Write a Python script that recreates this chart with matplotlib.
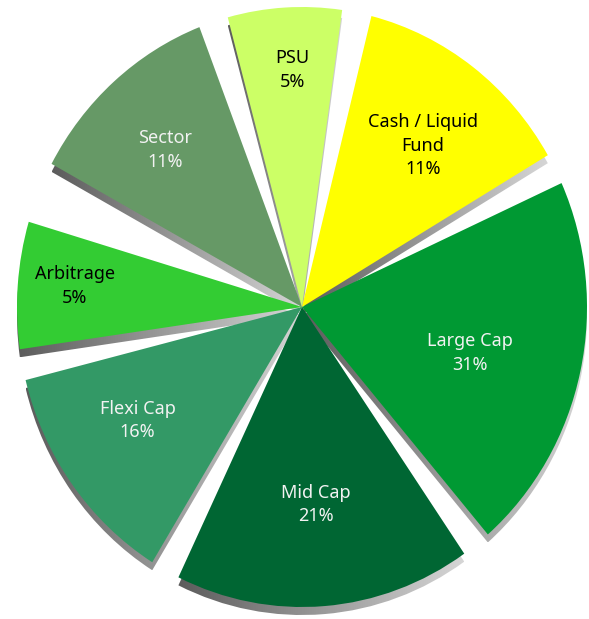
import numpy as np
import matplotlib.pyplot as plt
from matplotlib.patches import Wedge
from matplotlib.colors import LinearSegmentedColormap

# slices, clockwise, starting with Sector (upper left)
labels = ["Sector", "PSU", "Cash / Liquid\nFund", "Large Cap", "Mid Cap", "Flexi Cap", "Arbitrage"]
pct = [11, 5, 11, 31, 21, 16, 5]
# angular size of each slice as drawn in the picture (degrees)
slice_sizes = [40.4, 23.2, 45.5, 73.7, 60.4, 44.2, 24.6]

colors = ["#669966", "#CCFF66", "#FFFF00", "#009933", "#006633", "#339966", "#33CC33"]
text_colors = ["#F2F2F2", "black", "black", "#F2F2F2", "#F2F2F2", "#F2F2F2", "black"]
# label placement: distance from centre and small turn off the slice middle
label_r = [0.71, 0.79, 0.685, 0.61, 0.66, 0.69, 0.80]
label_turn = [-1.1, 1.0, 1.5, 2.2, 0.2, 2.9, 0.8]

gap = 6.0          # white wedge between slices
start = 298.5      # first slice starts here (deg clockwise from top)
drop = 8 / 300     # shadow offset downwards

fig = plt.figure(figsize=(5.89, 6.19), dpi=100)
ax = fig.add_axes([0, 0, 1, 1])
ax.axis("off")

shade = LinearSegmentedColormap.from_list("shade", ["#5c5c5c", "#d6d6d6"])
grad = np.linspace(0, 1, 256).reshape(1, -1)

a0 = start
spans = []
for s in slice_sizes:
    a1 = a0 + s
    spans.append((a0, a1))
    a0 = a1 + gap

# shadows first
for a0, a1 in spans:
    sh = Wedge((0, -drop), 1.0, 90 - a1, 90 - a0, facecolor="none", edgecolor="none")
    ax.add_patch(sh)
    ext = sh.get_path().get_extents()
    im = ax.imshow(grad, extent=[ext.x0, ext.x1, ext.y0, ext.y1], cmap=shade,
                   aspect="auto", zorder=1, interpolation="bilinear")
    im.set_clip_path(sh)

# slices and labels
for i, (a0, a1) in enumerate(spans):
    ax.add_patch(Wedge((0, 0), 1.0, 90 - a1, 90 - a0, facecolor=colors[i],
                       edgecolor="none", zorder=2))
    mid = np.radians(90 - (a0 + a1) / 2 - label_turn[i])
    r = label_r[i]
    ax.text(r * np.cos(mid), r * np.sin(mid), f"{labels[i]}\n{pct[i]}%",
            ha="center", va="center", fontsize=13, color=text_colors[i],
            family="Noto Sans", linespacing=1.4, zorder=3)

ax.set_xlim(-302 / 285, 287 / 285)
ax.set_ylim(-312 / 300, 307 / 300)

plt.savefig("out.png", dpi=100)
plt.close()
